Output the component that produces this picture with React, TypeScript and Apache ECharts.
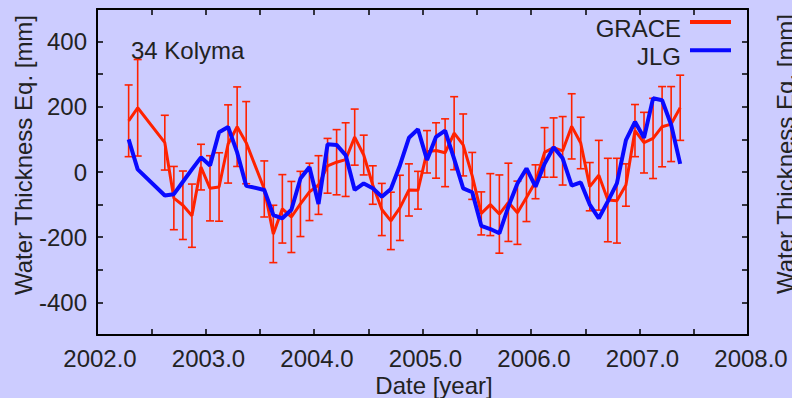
import React, { useEffect, useRef } from "react";
import * as echarts from "echarts";

// Monthly GRACE solutions (gaps: Jun/Jul 2002, Jun 2003)
const MONTHS = [
  "2002-04", "2002-05", "2002-08", "2002-09", "2002-10", "2002-11", "2002-12",
  "2003-01", "2003-02", "2003-03", "2003-04", "2003-05", "2003-07", "2003-08", "2003-09", "2003-10", "2003-11", "2003-12",
  "2004-01", "2004-02", "2004-03", "2004-04", "2004-05", "2004-06", "2004-07", "2004-08", "2004-09", "2004-10", "2004-11", "2004-12",
  "2005-01", "2005-02", "2005-03", "2005-04", "2005-05", "2005-06", "2005-07", "2005-08", "2005-09", "2005-10", "2005-11", "2005-12",
  "2006-01", "2006-02", "2006-03", "2006-04", "2006-05", "2006-06", "2006-07", "2006-08", "2006-09", "2006-10", "2006-11", "2006-12",
  "2007-01", "2007-02", "2007-03", "2007-04", "2007-05",
];

// GRACE water thickness equivalent [mm]
const GRACE = [
  157, 197, 90, -80, -102, -134, 15,
  -50, -46, 86, 139, 90, -52, -190, -113, -138, -98, -61,
  -40, 19, 30, 38, 107, 52, -40, -115, -150, -110, -55, -56,
  62, 66, 59, 119, 83, -12, -127, -100, -129, -93, -125, -78,
  -30, 60, 75, 65, 140, 89, -45, -10, -86, -88, -40, 127,
  90, 103, 139, 147, 197,
];

// GRACE one-sigma uncertainty [mm]
const GRACE_ERR = [
  110, 148, 84, 97, 105, 97, 70,
  100, 105, 120, 122, 126, 86, 88, 105, 109, 100, 88,
  90, 84, 100, 113, 86, 61, 59, 80, 88, 100, 80, 58,
  65, 85, 104, 112, 95, 72, 66, 95, 120, 120, 97, 74,
  52, 76, 91, 105, 100, 79, 74, 107, 128, 130, 65, 80,
  93, 123, 123, 115, 100,
];

// JLG hydrology model [mm]
const JLG = [
  100, 8, -72, -68, -30, 8, 45,
  20, 122, 138, 60, -42, -55, -132, -142, -116, -20, 15,
  -98, 85, 83, 52, -55, -35, -50, -76, -52, 20, 105, 131,
  37, 108, 127, 40, -50, -62, -165, -175, -188, -106, -35, 11,
  -45, 25, 76, 42, -42, -32, -100, -142, -90, -35, 98, 154,
  105, 226, 220, 145, 25,
];

const SERIES_NAMES = ["GRACE", "JLG"];

const X_TICKS = { min: 2002, max: 2008, step: 0.5 };
const Y_TICKS = { min: -500, max: 500, step: 100, labelStep: 200 };

const BG = "#ccccff";
const RED = "#ff2200";
const BLUE = "#0a0aff";
const INK = "#222222";
const FONT = "'Liberation Sans', Arial, sans-serif";

const toYear = (m: string) => {
  const [y, mo] = m.split("-").map(Number);
  return y + (mo - 0.5) / 12;
};

export default function App() {
  const ref = useRef<HTMLDivElement>(null);

  useEffect(() => {
    if (!ref.current) return;
    const chart = echarts.init(ref.current, null, { renderer: "svg" });

    const xs = MONTHS.map(toYear);
    const graceLine = xs.map((x, i) => [x, GRACE[i]]);
    const graceBars = xs.map((x, i) => [x, GRACE[i] - GRACE_ERR[i], GRACE[i] + GRACE_ERR[i]]);
    const jlgLine = xs.map((x, i) => [x, JLG[i]]);

    const frame = { show: true, onZero: false, lineStyle: { color: "#000", width: 2 } };
    const tick = { show: true, inside: true, length: 6, lineStyle: { color: "#000", width: 1.5 } };

    const xBase = {
      type: "value" as const,
      min: X_TICKS.min,
      max: X_TICKS.max,
      interval: X_TICKS.step,
      axisLine: frame,
      axisTick: tick,
      splitLine: { show: false },
    };
    const yBase = {
      type: "value" as const,
      min: Y_TICKS.min,
      max: Y_TICKS.max,
      interval: Y_TICKS.step,
      axisLine: frame,
      axisTick: tick,
      splitLine: { show: false },
    };

    // key in the top-right corner: name on the left, line sample on the right
    const keyColors = [RED, BLUE];
    const keyItems = SERIES_NAMES.flatMap((name, i) => [
      {
        type: "text",
        x: 681,
        y: 28 + i * 28,
        style: { text: name, font: `24px ${FONT}`, fill: INK, align: "right", verticalAlign: "middle" },
      },
      {
        type: "rect",
        shape: { x: 690, y: 20 + i * 28.3, width: 41, height: 4 },
        style: { fill: keyColors[i] },
      },
    ]);

    chart.setOption({
      animation: false,
      backgroundColor: BG,
      textStyle: { fontFamily: FONT },
      grid: { left: 97, right: 44, top: 9, bottom: 63, containLabel: false, outerBoundsMode: "none" },
      xAxis: [
        {
          ...xBase,
          position: "bottom",
          axisLabel: {
            show: true,
            showMinLabel: true,
            showMaxLabel: true,
            fontFamily: FONT,
            fontSize: 24,
            color: INK,
            margin: 11,
            padding: [0, 0, 0, 6],
            formatter: (v: number) => (Math.abs(v - Math.round(v)) < 1e-6 ? v.toFixed(1) : ""),
          },
        },
        { ...xBase, position: "top", axisLabel: { show: false } },
      ],
      yAxis: [
        {
          ...yBase,
          position: "left",
          axisLabel: {
            show: true,
            showMinLabel: true,
            showMaxLabel: true,
            fontFamily: FONT,
            fontSize: 24,
            color: INK,
            margin: 10,
            formatter: (v: number) =>
              v % Y_TICKS.labelStep === 0 && Math.abs(v) < Y_TICKS.max ? String(v) : "",
          },
        },
        { ...yBase, position: "right", axisLabel: { show: false } },
      ],
      graphic: [
        {
          type: "text",
          x: 131,
          y: 50,
          style: { text: "34 Kolyma", font: `24px ${FONT}`, fill: INK, align: "left", verticalAlign: "middle" },
        },
        {
          type: "text",
          x: 23,
          y: 155,
          rotation: Math.PI / 2,
          style: { text: "Water Thickness Eq. [mm]", font: `24px ${FONT}`, fill: INK, align: "center", verticalAlign: "middle" },
        },
        {
          // y-axis title of the neighbouring panel, running off the right edge
          type: "text",
          x: 785,
          y: 154,
          rotation: Math.PI / 2,
          style: { text: "Water Thickness Eq. [mm]", font: `24px ${FONT}`, fill: INK, align: "center", verticalAlign: "middle" },
        },
        {
          type: "text",
          x: 434,
          y: 385,
          style: { text: "Date [year]", font: `24px ${FONT}`, fill: INK, align: "center", verticalAlign: "middle" },
        },
        ...keyItems,
      ],
      series: [
        {
          name: SERIES_NAMES[0],
          type: "custom",
          xAxisIndex: 0,
          yAxisIndex: 0,
          encode: { x: 0, y: [1, 2] },
          data: graceBars,
          z: 2,
          renderItem: (_params: any, api: any) => {
            const x = api.value(0);
            const lo = api.coord([x, api.value(1)]);
            const hi = api.coord([x, api.value(2)]);
            const hw = 4;
            const style = { stroke: RED, lineWidth: 1.6 };
            return {
              type: "group",
              children: [
                { type: "line", shape: { x1: hi[0], y1: hi[1], x2: lo[0], y2: lo[1] }, style },
                { type: "line", shape: { x1: hi[0] - hw, y1: hi[1], x2: hi[0] + hw, y2: hi[1] }, style },
                { type: "line", shape: { x1: lo[0] - hw, y1: lo[1], x2: lo[0] + hw, y2: lo[1] }, style },
              ],
            };
          },
          itemStyle: { color: RED },
        },
        {
          name: SERIES_NAMES[0],
          type: "line",
          data: graceLine,
          showSymbol: false,
          symbol: "none",
          z: 3,
          color: RED,
          lineStyle: { color: RED, width: 3 },
        },
        {
          name: SERIES_NAMES[1],
          type: "line",
          data: jlgLine,
          showSymbol: false,
          symbol: "none",
          z: 4,
          color: BLUE,
          lineStyle: { color: BLUE, width: 4 },
        },
      ],
    });

    return () => chart.dispose();
  }, []);

  return (
    <div
      ref={ref}
      style={{ position: "absolute", left: 0, top: 0, width: 792, height: 398 }}
    />
  );
}
